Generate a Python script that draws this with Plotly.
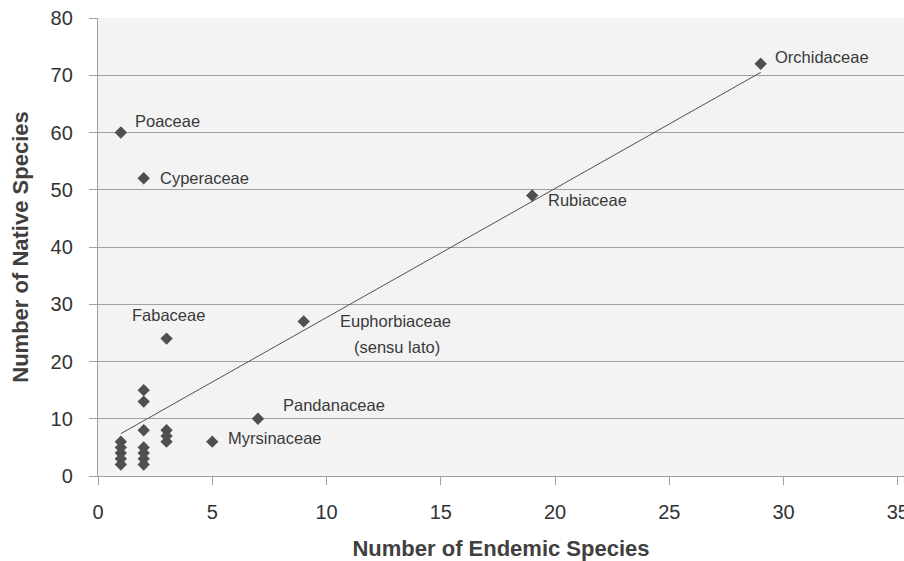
import plotly.graph_objects as go

# Data
endemic = [1, 1, 1, 1, 1, 1,
           2, 2, 2, 2, 2, 2, 2, 2,
           3, 3, 3, 3,
           5, 7, 9, 19, 29]
native = [60, 6, 5, 4, 3, 2,
          52, 15, 13, 8, 5, 4, 3, 2,
          24, 8, 7, 6,
          6, 10, 27, 49, 72]

trend_x = [1, 29]
trend_y = [7.4, 70.5]

label_names = ["Poaceae", "Cyperaceae", "Orchidaceae", "Rubiaceae", "Fabaceae",
               "Euphorbiaceae", "(sensu lato)", "Pandanaceae", "Myrsinaceae"]
label_x = [1, 2, 29, 19, 3, 9, 9, 7, 5]
label_y = [60, 52, 72, 49, 24, 27, 27, 10, 6]

x_ticks = [0, 5, 10, 15, 20, 25, 30, 35]
y_ticks = [0, 10, 20, 30, 40, 50, 60, 70, 80]

# label placement (pixel offsets)
label_anchor = ["left", "left", "left", "left", "center", "left", "center", "left", "left"]
label_dx = [12, 14, 12, 14, 2, 34, 93, 23, 14]
label_dy = [12, 0, 7, -5, 24, 0, -26, 14, 4]

fig = go.Figure()
fig.add_trace(go.Scatter(
    x=trend_x, y=trend_y, mode="lines",
    line=dict(color="#505050", width=1), hoverinfo="skip", showlegend=False))
fig.add_trace(go.Scatter(
    x=endemic, y=native, mode="markers",
    marker=dict(symbol="diamond", size=9.5, color="#4f4f4f"),
    showlegend=False))

for name, x, y, anc, dx, dy in zip(label_names, label_x, label_y, label_anchor, label_dx, label_dy):
    fig.add_annotation(x=x, y=y, xref="x", yref="y", text=name, showarrow=False,
                       xanchor=anc, yanchor="middle", xshift=dx, yshift=dy,
                       font=dict(family="Liberation Sans, Arial", size=16.5, color="#3a3a3a"))

axis_common = dict(
    showline=True, linecolor="#a0a0a0", linewidth=1.3,
    ticks="outside", tickcolor="#a0a0a0", ticklen=8, tickwidth=1.3,
    tickfont=dict(family="Liberation Sans, Arial", size=20, color="#333333"),
    zeroline=False, automargin=False, ticklabeloverflow="allow",
)

fig.update_layout(
    width=904, height=561,
    margin=dict(l=98, r=0, t=18, b=85),
    paper_bgcolor="white", plot_bgcolor="#f3f3f3",
    xaxis=dict(range=[0, 35.27], tickvals=x_ticks, showgrid=False,
               ticklabelstandoff=10,
               title=dict(text="<b>Number of Endemic Species</b>", standoff=20,
                          font=dict(family="Liberation Sans, Arial", size=22, color="#404040")),
               **axis_common),
    yaxis=dict(range=[0, 80], tickvals=y_ticks, showgrid=True,
               gridcolor="#a0a0a0", gridwidth=1.3,
               ticklabelstandoff=12,
               title=dict(text="<b>Number of Native Species</b>", standoff=15,
                          font=dict(family="Liberation Sans, Arial", size=22, color="#404040")),
               **axis_common),
)

fig.write_html("out.html", config={"displayModeBar": False},
               post_script="document.body.style.margin='0';document.body.style.overflow='hidden';")
